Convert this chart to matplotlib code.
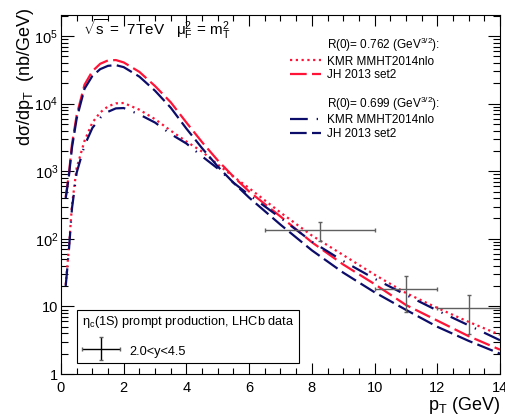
import numpy as np
import matplotlib
matplotlib.use('Agg')
import matplotlib.pyplot as plt
from matplotlib.lines import Line2D
from matplotlib.container import ErrorbarContainer
from matplotlib.legend_handler import HandlerErrorbar

plt.rcParams['font.family'] = ['Liberation Sans', 'DejaVu Sans']
plt.rcParams['mathtext.fontset'] = 'custom'
plt.rcParams['mathtext.rm'] = 'Liberation Sans'
plt.rcParams['mathtext.it'] = 'Liberation Sans'
plt.rcParams['mathtext.default'] = 'regular'

# pT grid (GeV)
pt = [0.15, 0.25, 0.35, 0.5, 0.75, 1.0, 1.25, 1.5, 1.75, 2.0, 2.5, 3.0, 3.5,
      4.0, 4.5, 5.0, 5.5, 6.0, 7.0, 8.0, 9.0, 10.0, 11.0, 12.0, 13.0, 14.0]

# R(0) = 0.762
kmr_762 = [20.9, 70.8, 316, 1122, 2818, 5248, 7413, 9120, 10100, 10230, 8130,
           5890, 3981, 2754, 1950, 1259, 832, 562, 245, 112, 57.5, 29.5, 15.8,
           9.5, 5.9, 3.8]
jh_762 = [417, 891, 2512, 6761, 19055, 30200, 38900, 43650, 44160, 40740,
          29510, 18200, 10470, 5250, 2690, 1445, 832, 501, 214, 89, 41.7, 21.4,
          10.5, 6.17, 3.63, 2.29]
# R(0) = 0.699
kmr_699 = [20.0, 66, 282, 955, 2399, 4365, 6166, 7586, 8511, 8610, 6918, 5248,
           3548, 2570, 1660, 1096, 676, 447, 204, 91, 46.8, 25.7, 14.8, 8.7,
           5.25, 3.16]
jh_699 = [398, 832, 2239, 6026, 16600, 25700, 32400, 36300, 37150, 34700,
          25100, 15500, 8710, 4270, 2190, 1175, 676, 407, 162, 67.6, 31.6, 16.2,
          8.9, 5.0, 3.09, 2.0]

# LHCb data
lhcb_pt = [8.25, 11.0, 13.0]
lhcb_pt_err = [1.75, 1.0, 1.0]
lhcb_y = [135, 18.0, 9.4]
lhcb_y_lo = [43, 9.8, 5.5]
lhcb_y_hi = [45, 10.5, 5.3]

red = '#ff1438'
navy = '#0c0c6a'

fig = plt.figure(figsize=(5.06, 4.17), dpi=100)
ax = fig.add_axes([61/506, 1-374/417, 439/506, 359/417])

lw = 1.6
l1, = ax.plot(pt, kmr_762, color=red, lw=lw, ls=(0, (1, 1.6)))
l2, = ax.plot(pt, jh_762, color=red, lw=lw, ls=(0, (7.5, 2.4)))
l3, = ax.plot(pt, kmr_699, color=navy, lw=lw, ls=(0, (8, 4, 0.6, 4)))
l4, = ax.plot(pt, jh_699, color=navy, lw=lw, ls=(0, (7.5, 2.4)))

eb = ax.errorbar(lhcb_pt, lhcb_y, xerr=lhcb_pt_err, yerr=[lhcb_y_lo, lhcb_y_hi],
                 fmt='none', ecolor='#606060', elinewidth=1.0, capsize=1.5,
                 capthick=1.0)

ax.set_yscale('log')
ax.set_xlim(0, 14)
ax.set_ylim(1, 2.05e5)

ax.set_xticks(np.arange(0, 15, 2))
ax.set_xticks(np.arange(0, 14.01, 0.5), minor=True)
ax.set_yticks([1, 10, 100, 1e3, 1e4, 1e5])
ax.set_yticklabels(['1', '10', '$10^{2}$', '$10^{3}$', '$10^{4}$', '$10^{5}$'])
ax.tick_params(axis='both', which='both', direction='in', top=True, right=True,
               width=0.8, labelsize=10.5)
ax.tick_params(axis='x', which='major', length=8, pad=5)
ax.tick_params(axis='x', which='minor', length=4)
ax.tick_params(axis='y', which='major', length=9, pad=2)
ax.tick_params(axis='y', which='minor', length=5)
for s in ax.spines.values():
    s.set_linewidth(0.8)

fig.text(26/506, 1-8/417, r'd$\sigma$/d$p_{T}$  (nb/GeV)', rotation=90,
         ha='center', va='top', fontsize=13)
fig.text(500/506, 1-410/417, r'$p_{T}$ (GeV)', ha='right', va='baseline',
         fontsize=13)

ax.text(0.05, 0.944, r'$\sqrt{s}$ =  7TeV   $\mu_{F}^{2}$ = $m_{T}^{2}$',
        transform=ax.transAxes, fontsize=11, va='baseline')

blank = Line2D([], [], color='none')
leg1 = ax.legend([blank, l1, l2, blank, blank, l3, l4],
                 ['R(0)= 0.762 (GeV$^{3/2}$):', 'KMR MMHT2014nlo', 'JH 2013 set2',
                  ' ', 'R(0)= 0.699 (GeV$^{3/2}$):', 'KMR MMHT2014nlo',
                  'JH 2013 set2'],
                 loc='upper left', bbox_to_anchor=(0.5216, 0.941), frameon=False,
                 fontsize=8.5, handlelength=2.6, handletextpad=0.5,
                 labelspacing=0.1, borderpad=0, borderaxespad=0)
ax.add_artist(leg1)


def black_handle(h, o):
    h.update_from(o)
    h.set_color('black')
    if isinstance(h, Line2D):
        h.set_marker('None')


leg2 = ax.legend([eb], ['2.0<y<4.5'], loc='lower left',
                 bbox_to_anchor=(0.037, 0.030),
                 title=r'$\eta_{c}$(1S) prompt production, LHCb data',
                 title_fontsize=9.2, fontsize=9.2, alignment='left',
                 fancybox=False, edgecolor='black', framealpha=1,
                 handlelength=3.0, handleheight=1.6, handletextpad=0.75,
                 borderpad=0.35, labelspacing=0.95, borderaxespad=0,
                 handler_map={ErrorbarContainer: HandlerErrorbar(
                     xerr_size=1.5, yerr_size=0.9, update_func=black_handle)})
leg2.get_frame().set_linewidth(0.8)

fig.savefig('out.png', dpi=100)
